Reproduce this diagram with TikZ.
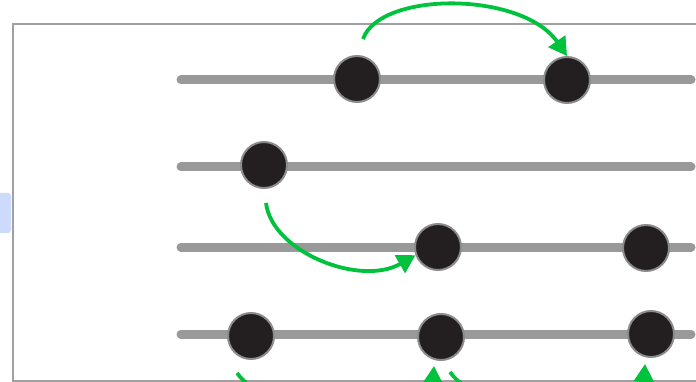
\documentclass[tikz,border=0pt]{standalone}
\usetikzlibrary{arrows.meta}
\definecolor{trackgray}{HTML}{999999}
\definecolor{framegray}{HTML}{A0A0A0}
\definecolor{dotfill}{HTML}{231F20}
\definecolor{dotrim}{HTML}{8C8C8C}
\definecolor{movegreen}{HTML}{00C23C}
\definecolor{paleblue}{HTML}{CCDBFB}
\tikzset{
  track/.style={line width=9pt, trackgray, line cap=round},
  dot/.style={circle, fill=dotfill, draw=dotrim, line width=2pt, minimum size=46pt, inner sep=0pt},
  move/.style={movegreen, line width=3.8pt, -{Triangle[length=18pt,width=20pt]}},
}
\begin{document}
\begin{tikzpicture}[x=1pt,y=-1pt]
\useasboundingbox (0,0) rectangle (696,382);
\begin{scope}
\clip (0,0) rectangle (696,382);
% pale tab at the left edge
\fill[paleblue, rounded corners=3pt] (-10,193) rectangle (11,233);
% frame
\draw[framegray, line width=2pt] (13,24) rectangle (720,381);
% tracks
\foreach \y in {80,167,247,334}
  \draw[track] (181,\y) -- (691,\y);
% dots
\node[dot] (n11) at (357,79) {};
\node[dot] (n12) at (567,80) {};
\node[dot] (n21) at (264,165) {};
\node[dot] (n31) at (438,247) {};
\node[dot] (n32) at (646,248) {};
\node[dot] (n41) at (251,336) {};
\node[dot] (n42) at (441,337) {};
\node[dot] (n43) at (651,334) {};
% free starting points of the moves
\coordinate (s1) at (363,39);
\coordinate (s2) at (266,203);
\coordinate (s3) at (237,373);
\coordinate (s4) at (450,372);
\coordinate (t3) at (434,366);
\coordinate (t4) at (645,364);
% moves
\draw[move] (s1) .. controls (380,-9) and (522,-9) .. (n12.north);
\draw[move] (s2) .. controls (272,252) and (360,287) .. (n31.200);
\draw[move] (s3) .. controls (267,418) and (430,430) .. (t3);
\draw[move] (s4) .. controls (480,417) and (641,430) .. (t4);
\end{scope}
\end{tikzpicture}
\end{document}
